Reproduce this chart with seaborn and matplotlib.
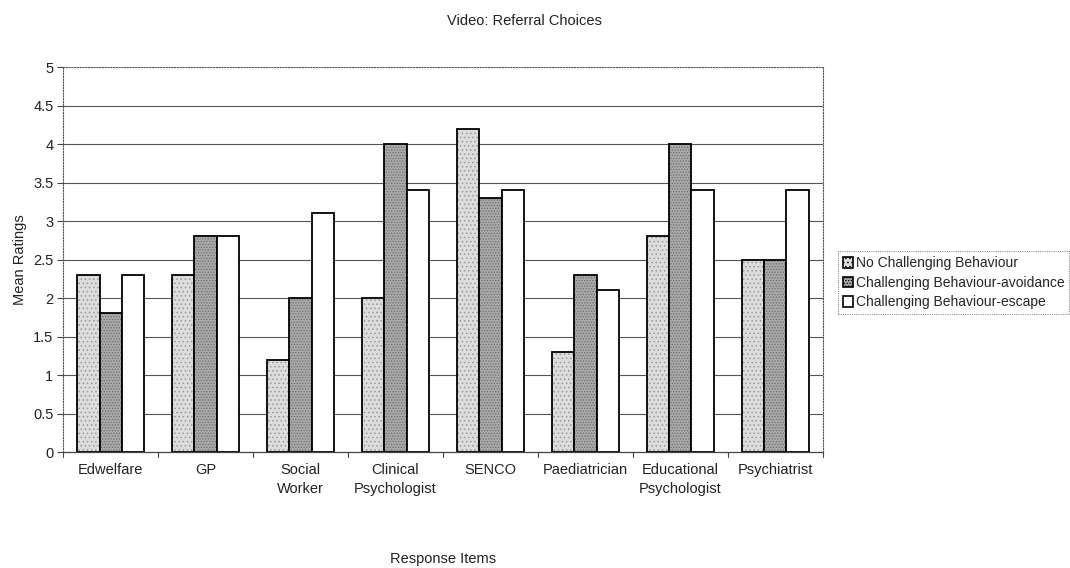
import matplotlib
matplotlib.use("Agg")
import matplotlib.pyplot as plt
import seaborn as sns
import pandas as pd
import numpy as np

items = ["Edwelfare", "GP", "Social\nWorker", "Clinical\nPsychologist", "SENCO",
         "Paediatrician", "Educational\nPsychologist", "Psychiatrist"]
no_challenging = [2.3, 2.3, 1.2, 2.0, 4.2, 1.3, 2.8, 2.5]
avoidance = [1.8, 2.8, 2.0, 4.0, 3.3, 2.3, 4.0, 2.5]
escape = [2.3, 2.8, 3.1, 3.4, 3.4, 2.1, 3.4, 3.4]
series_names = ["No Challenging Behaviour", "Challenging Behaviour-avoidance",
                "Challenging Behaviour-escape"]

df = pd.DataFrame({
    "item": items * 3,
    "rating": no_challenging + avoidance + escape,
    "group": [series_names[0]] * len(items) + [series_names[1]] * len(items)
             + [series_names[2]] * len(items),
})

sns.set_style("white")
plt.rcParams["font.family"] = ["Liberation Sans", "DejaVu Sans"]
plt.rcParams["hatch.linewidth"] = 0.6

fig = plt.figure(figsize=(10.7, 5.68), dpi=100)
ax = fig.add_axes([0.059, 0.204, 0.71, 0.678])

fills = ["#dcdcdc", "#a9a9a9", "#ffffff"]
hatches = ["....", "......", None]
hatch_cols = ["#9a9a9a", "#6e6e6e", "#000000"]

sns.barplot(data=df, x="item", y="rating", hue="group", order=items,
            hue_order=series_names, palette=fills, width=0.7, gap=0,
            edgecolor="black", linewidth=1.3, ax=ax, legend=False)

for cont, fc, h, hc in zip(ax.containers, fills, hatches, hatch_cols):
    for bar in cont:
        bar.set_facecolor(fc)
        if h:
            bar.set_hatch(h)
            bar._hatch_color = matplotlib.colors.to_rgba(hc)

ax.set_ylim(0, 5)
ax.set_xlim(-0.5, len(items) - 0.5)
ax.set_yticks(np.arange(0, 5.01, 0.5))
ax.set_yticklabels(["0", "0.5", "1", "1.5", "2", "2.5", "3", "3.5", "4", "4.5", "5"])
ax.yaxis.grid(True, color="#555555", linewidth=0.8)
ax.set_axisbelow(True)
# the top edge is drawn by the dotted frame, not a gridline
ax.yaxis.get_gridlines()[-1].set_visible(False)
ax.yaxis.get_gridlines()[0].set_visible(False)

ax.set_xticks(np.arange(len(items)))
ax.set_xticklabels(items, fontsize=10.5, color="#222222", va="top", linespacing=1.45)
ax.tick_params(axis="x", length=0, pad=8)
ax.tick_params(axis="y", labelsize=10.5, labelcolor="#222222", length=4, direction="out",
               left=True, color="#444444", pad=3)
for b in np.arange(-0.5, len(items), 1.0):
    ax.plot([b, b], [0, -0.06], color="#444444", lw=0.8, clip_on=False,
            transform=ax.transData)

for side in ["top", "right", "left"]:
    ax.spines[side].set_linestyle((0, (1, 1.5)))
    ax.spines[side].set_color("#555555")
    ax.spines[side].set_linewidth(0.8)
ax.spines["bottom"].set_color("#444444")
ax.spines["bottom"].set_linewidth(0.9)

ax.set_xlabel("Response Items", fontsize=10.5, color="#222222")
ax.xaxis.set_label_coords(0.5, -0.278)
ax.xaxis.label.set_va("center")
ax.set_ylabel("Mean Ratings", fontsize=10.5, color="#222222")
ax.yaxis.set_label_coords(-0.047, 0.5)
fig.suptitle("Video: Referral Choices", fontsize=10.5, color="#222222", x=0.49, y=0.975)

handles = [matplotlib.patches.Patch(facecolor=fc, edgecolor="black", hatch=h or "",
                                    linewidth=1.2) for fc, h in zip(fills, hatches)]
leg = fig.legend(handles, series_names, loc="center left",
                 bbox_to_anchor=(0.783, 0.502), fontsize=10, frameon=True,
                 fancybox=False, handlelength=0.75, handleheight=0.75,
                 handletextpad=0.2, borderpad=0.35, labelspacing=0.4,
                 borderaxespad=0)
leg.get_frame().set_edgecolor("#777777")
leg.get_frame().set_linestyle((0, (1, 1)))
leg.get_frame().set_linewidth(0.8)

fig.savefig("out.png", dpi=100, facecolor="white")
